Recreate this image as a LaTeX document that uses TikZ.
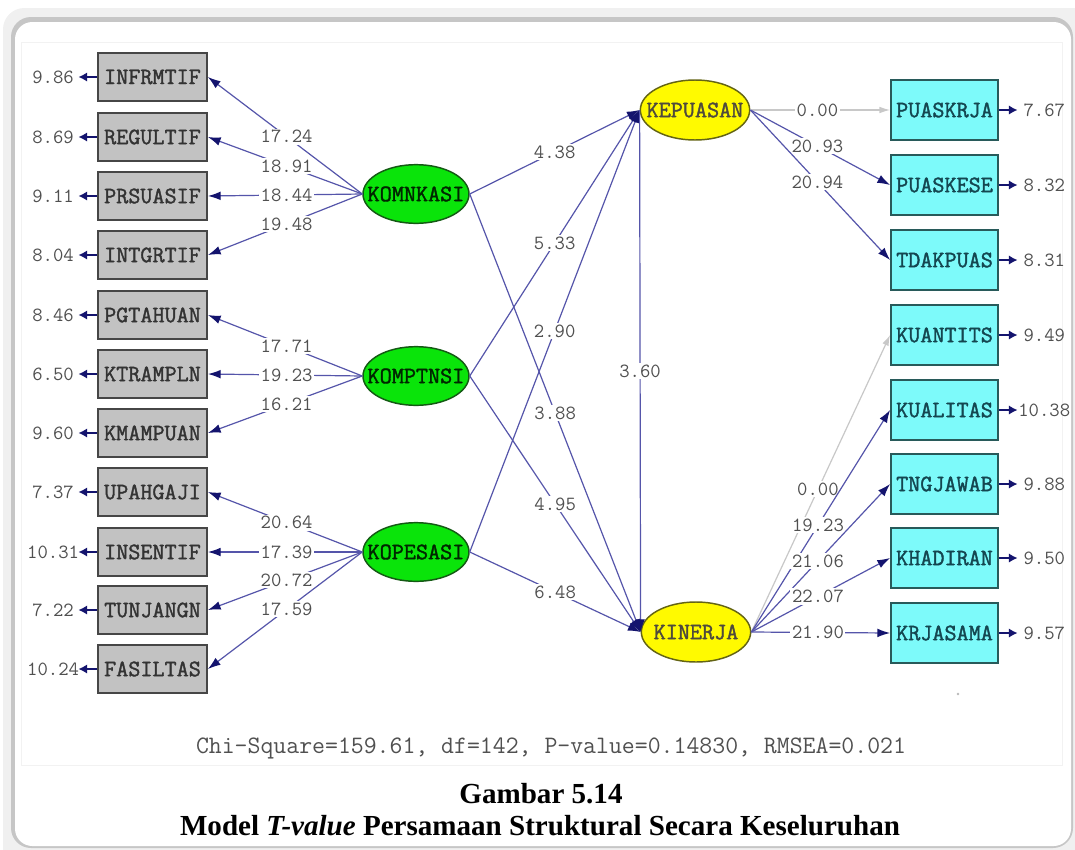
\documentclass[tikz,border=0pt]{standalone}
\usepackage{fontspec}
\setmainfont{Liberation Serif}
\newfontfamily\plotfont{Latin Modern Mono}
\newfontfamily\boxfont{Latin Modern Mono}[FakeBold=1.6]
\usetikzlibrary{arrows.meta,shapes.geometric}

\definecolor{pathc}{RGB}{85,85,170}
\definecolor{tipc}{RGB}{20,20,110}
\definecolor{fixc}{RGB}{200,200,200}
\definecolor{lblc}{RGB}{80,80,80}
\definecolor{greyfill}{RGB}{194,194,194}
\definecolor{greyedge}{RGB}{70,70,70}
\definecolor{cyanfill}{RGB}{125,250,250}
\definecolor{cyanedge}{RGB}{40,90,90}
\definecolor{cyantext}{RGB}{20,70,80}
\definecolor{greenfill}{RGB}{10,228,10}
\definecolor{greenedge}{RGB}{20,90,20}
\definecolor{yellowfill}{RGB}{255,250,0}
\definecolor{yellowedge}{RGB}{100,100,20}

\tikzset{
  obsgrey/.style={draw=greyedge, line width=1.4pt, fill=greyfill,
    minimum width=81.75pt, minimum height=36pt, inner sep=0pt,
    font=\boxfont\fontsize{17.6}{18}\selectfont, text=black!80},
  obscyan/.style={draw=cyanedge, line width=1.4pt, fill=cyanfill,
    minimum width=80.25pt, minimum height=45pt, inner sep=0pt,
    font=\boxfont\fontsize{17.6}{18}\selectfont, text=cyantext},
  latgreen/.style={ellipse, draw=greenedge, line width=1.1pt, fill=greenfill,
    minimum width=79.5pt, minimum height=44pt, inner sep=0pt,
    font=\boxfont\fontsize{17.6}{18}\selectfont, text=black!85!green},
  latyellow/.style={ellipse, draw=yellowedge, line width=1.1pt, fill=yellowfill,
    minimum width=82pt, minimum height=45pt, inner sep=0pt,
    font=\boxfont\fontsize{17.6}{18}\selectfont, text=black!80!yellow},
  lbl/.style={fill=white, inner sep=1.2pt,
    font=\plotfont\fontsize{15.1}{16}\selectfont, text=lblc},
  errlbl/.style={inner sep=0pt, font=\plotfont\fontsize{15.1}{16}\selectfont, text=lblc},
  conn/.style={draw=pathc, line width=0.9pt,
    -{Latex[length=9.5pt,width=6.5pt,color=tipc]}},
  fixconn/.style={draw=fixc, line width=0.9pt,
    -{Latex[length=8pt,width=5pt,color=fixc]}},
  errarrow/.style={draw=tipc, line width=2.2pt,
    -{Latex[length=6.5pt,width=7pt]}},
}

\begin{document}
\begin{tikzpicture}[x=0.75pt,y=-0.75pt]
\useasboundingbox (0,0) rectangle (1075,850);

% page card with shadowed edge
\fill[gray!12, rounded corners=16pt] (3,8) rectangle (1095,870);
\fill[gray!45, rounded corners=15pt] (11,17) rectangle (1073,848);
\fill[white, rounded corners=13pt] (15,22) rectangle (1071,846);
\draw[gray!10, line width=0.6pt] (21,42) rectangle (1062,765);

% left indicators
\foreach \nm/\yy/\txt in {ga/77/INFRMTIF, gb/137/REGULTIF, gc/196/PRSUASIF,
    gd/255/INTGRTIF, ge/315/PGTAHUAN, gf/374/KTRAMPLN, gg/433/KMAMPUAN,
    gh/492/UPAHGAJI, gi/552/INSENTIF, gj/610/TUNJANGN, gk/669/FASILTAS}
  \node[obsgrey] (\nm) at (152.5,\yy) {\txt};

% right indicators
\foreach \nm/\yy/\txt in {ca/110/PUASKRJA, cb/185/PUASKESE, cc/260/TDAKPUAS,
    cd/335/KUANTITS, ce/410/KUALITAS, cf/484/TNGJAWAB, cg/558/KHADIRAN,
    ch/633/KRJASAMA}
  \node[obscyan] (\nm) at (944.5,\yy) {\txt};

% latent variables
\node[latgreen] (kom) at (416,194) {\makebox[0pt]{KOMNKASI}};
\node[latgreen] (kmp) at (416,376) {\makebox[0pt]{KOMPTNSI}};
\node[latgreen] (kop) at (416,552) {\makebox[0pt]{KOPESASI}};
\node[latyellow] (kep) at (695,110) {\makebox[0pt]{KEPUASAN}};
\node[latyellow] (kin) at (696,632) {\makebox[0pt]{KINERJA}};

% error variances, left
\foreach \nm/\val in {ga/9.86, gb/8.69, gc/9.11, gd/8.04, ge/8.46, gf/6.50,
    gg/9.60, gh/7.37, gi/10.31, gj/7.22, gk/10.24}{
  \coordinate (e\nm) at ([xshift=-14pt]\nm.west);
  \draw[errarrow] (\nm.west) -- (e\nm);
  \node[errlbl] at ([xshift=-19pt]e\nm) {\val};
}

% error variances, right
\foreach \nm/\val in {ca/7.67, cb/8.32, cc/8.31, cd/9.49, ce/10.38, cf/9.88,
    cg/9.50, ch/9.57}{
  \coordinate (e\nm) at ([xshift=14pt]\nm.east);
  \draw[errarrow] (\nm.east) -- (e\nm);
  \node[errlbl] at ([xshift=20pt]e\nm) {\val};
}

% measurement paths, exogenous
\draw[conn] (kom.west) -- node[lbl,pos=.49] {17.24} (ga.east);
\draw[conn] (kom.west) -- node[lbl,pos=.49] {18.91} (gb.east);
\draw[conn] (kom.west) -- node[lbl,pos=.49] {18.44} (gc.east);
\draw[conn] (kom.west) -- node[lbl,pos=.49] {19.48} (gd.east);
\draw[conn] (kmp.west) -- node[lbl,pos=.49] {17.71} (ge.east);
\draw[conn] (kmp.west) -- node[lbl,pos=.49] {19.23} (gf.east);
\draw[conn] (kmp.west) -- node[lbl,pos=.49] {16.21} (gg.east);
\draw[conn] (kop.west) -- node[lbl,pos=.49] {20.64} (gh.east);
\draw[conn] (kop.west) -- node[lbl,pos=.49] {17.39} (gi.east);
\draw[conn] (kop.west) -- node[lbl,pos=.49] {20.72} (gj.east);
\draw[conn] (kop.west) -- node[lbl,pos=.49] {17.59} (gk.east);

% structural paths
\draw[conn] (kom.east) -- node[lbl,pos=.5] {4.38} (kep.west);
\draw[conn] (kmp.east) -- node[lbl,pos=.5] {5.33} (kep.west);
\draw[conn] (kop.east) -- node[lbl,pos=.5] {2.90} (kep.west);
\draw[conn] (kom.east) -- node[lbl,pos=.5] {3.88} (kin.west);
\draw[conn] (kmp.east) -- node[lbl,pos=.5] {4.95} (kin.west);
\draw[conn] (kop.east) -- node[lbl,pos=.5] {6.48} (kin.west);
\draw[conn] (kep.west) -- node[lbl,pos=.5] {3.60} (kin.west);

% measurement paths, endogenous
\draw[fixconn] (kep.east) -- node[lbl,pos=.48] {0.00} (ca.west);
\draw[conn] (kep.east) -- node[lbl,pos=.48] {20.93} (cb.west);
\draw[conn] (kep.east) -- node[lbl,pos=.48] {20.94} (cc.west);
\draw[fixconn] (kin.east) -- node[lbl,pos=.48] {0.00} (cd.west);
\draw[conn] (kin.east) -- node[lbl,pos=.48] {19.23} (ce.west);
\draw[conn] (kin.east) -- node[lbl,pos=.48] {21.06} (cf.west);
\draw[conn] (kin.east) -- node[lbl,pos=.48] {22.07} (cg.west);
\draw[conn] (kin.east) -- node[lbl,pos=.48] {21.90} (ch.west);

\fill[gray!55] (958,694) circle (1pt);

% fit statistics and caption
\node[anchor=base, inner sep=0pt, text=lblc,
  font=\plotfont\fontsize{18.8}{19}\selectfont] (fit) at (551,753)
  {Chi-Square=159.61, df=142, P-value=0.14830, RMSEA=0.021};
\node[anchor=base, inner sep=0pt, font=\bfseries\fontsize{21.8}{23}\selectfont]
  (cap1) at (541,803) {Gambar 5.14};
\node[anchor=base, inner sep=0pt, font=\bfseries\fontsize{21.8}{23}\selectfont]
  (cap2) at (540,835) {Model \textit{T-value} Persamaan Struktural Secara Keseluruhan};
\end{tikzpicture}
\end{document}
